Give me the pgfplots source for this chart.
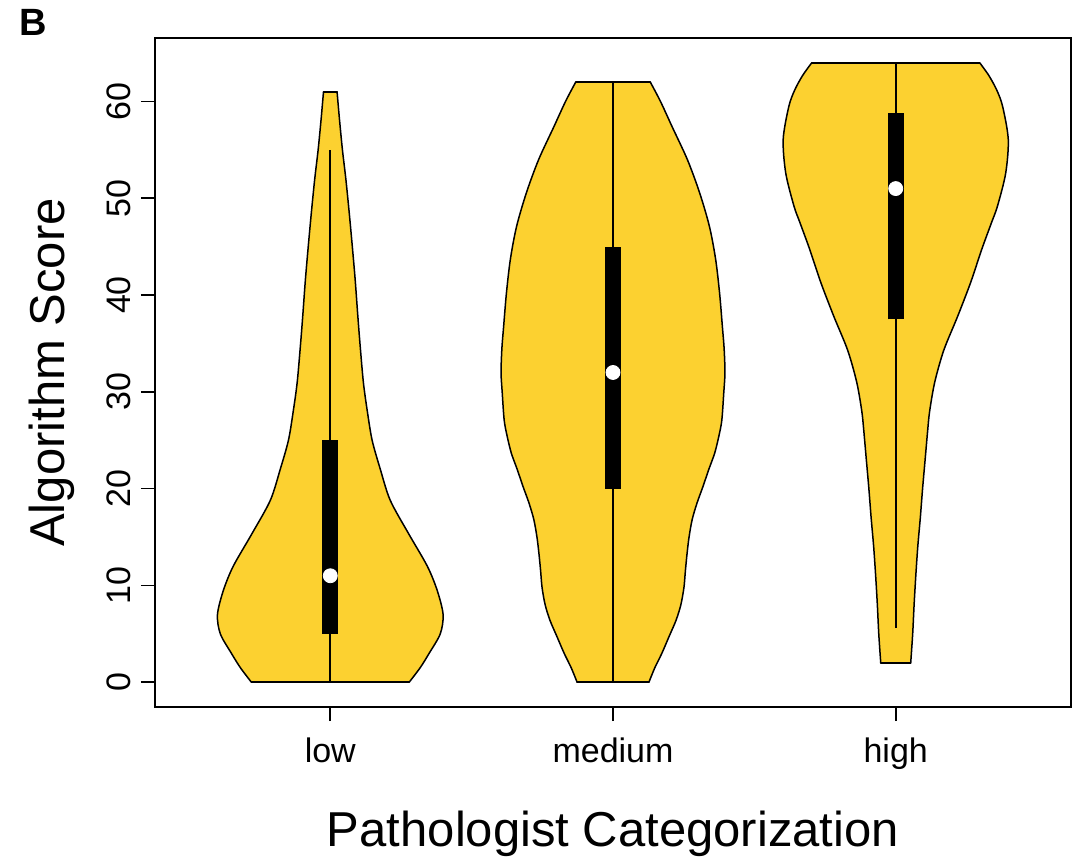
\documentclass[border=0pt]{standalone}
\usepackage{pgfplots}
\usepackage{pgfplotstable}
\pgfplotsset{compat=1.18}
\usepgfplotslibrary{fillbetween}
\usepackage{fontspec}
\setmainfont{Liberation Sans}
\usetikzlibrary{calc}
\definecolor{vio}{RGB}{252,209,48}

% half-widths of the violins (in x units), by score
\pgfplotstableread{
y w
0 0.279
1.5 0.318
3 0.350
5 0.389
7 0.399
9.5 0.378
12 0.343
15.4 0.276
18.8 0.212
22 0.177
25 0.148
28 0.131
31 0.117
35 0.105
38 0.097
41.6 0.088
45 0.078
48.5 0.067
52 0.055
55 0.043
58 0.033
61 0.024
}\lowtab
\pgfplotstableread{
y w
0 0.127
1.5 0.148
3 0.173
4.7 0.198
6.4 0.223
8 0.240
9.8 0.251
11.5 0.256
13.3 0.262
15 0.269
16.8 0.280
18.5 0.297
20.2 0.318
22 0.339
23.7 0.360
25.5 0.375
27.1 0.385
30 0.392
32 0.396
34.5 0.393
36.7 0.387
40.2 0.377
43.7 0.363
47.1 0.341
50.6 0.306
54 0.263
57.4 0.209
60 0.168
62 0.132
}\medtab
\pgfplotstableread{
y w
2 0.053
5 0.060
8 0.065
11 0.071
14 0.078
17 0.087
20 0.095
23 0.104
26 0.113
28 0.120
31 0.138
34.3 0.170
37.8 0.219
41.3 0.265
44.7 0.304
47.5 0.339
49.2 0.360
52.6 0.389
56.1 0.398
59.5 0.378
61.2 0.357
62.7 0.329
64 0.297
}\hightab

\begin{document}
\begin{tikzpicture}
\begin{axis}[
  at={(0,0)}, anchor=south west,
  scale only axis, width=458pt, height=334.5pt,
  xmin=0.38, xmax=3.62, ymin=-2.56, ymax=66.56,
  xtick={1,2,3}, xticklabels={low,medium,high},
  ytick={0,10,20,30,40,50,60},
  tick align=outside, tick pos=left,
  major tick length=7pt,
  tick style={black, line width=0.8pt},
  axis line style={line width=0.8pt},
  /pgf/number format/assume math mode=true,
  ticklabel style={font=\fontsize{17}{20}\selectfont},
  yticklabel style={xshift=-1.5pt, rotate=90, anchor=south},
  xticklabel style={yshift=-5pt},
  xlabel={Pathologist Categorization},
  ylabel={Algorithm Score},
  label style={font=\fontsize{24.5}{28}\selectfont},
  xlabel style={at={(axis description cs:0.5,-0.19)}, anchor=center},
  ylabel style={at={(axis description cs:-0.1124,0.5)}, anchor=center},
  clip=false,
  outline/.style={black, line width=0.75pt, line cap=round, line join=round},
]
% ---- low ----
\addplot[name path=lowR, draw=none, smooth] table[x expr=1+\thisrow{w}, y=y] {\lowtab};
\addplot[name path=lowL, draw=none, smooth] table[x expr=1-\thisrow{w}, y=y] {\lowtab};
\addplot[fill=vio, draw=none] fill between[of=lowR and lowL, reverse=true];
\addplot[outline, smooth] table[x expr=1+\thisrow{w}, y=y] {\lowtab};
\addplot[outline, smooth] table[x expr=1-\thisrow{w}, y=y] {\lowtab};
\addplot[outline] coordinates {(0.721,0) (1.279,0)};
\addplot[outline] coordinates {(0.976,61) (1.024,61)};
% ---- medium ----
\addplot[name path=medR, draw=none, smooth] table[x expr=2+\thisrow{w}, y=y] {\medtab};
\addplot[name path=medL, draw=none, smooth] table[x expr=2-\thisrow{w}, y=y] {\medtab};
\addplot[fill=vio, draw=none] fill between[of=medR and medL, reverse=true];
\addplot[outline, smooth] table[x expr=2+\thisrow{w}, y=y] {\medtab};
\addplot[outline, smooth] table[x expr=2-\thisrow{w}, y=y] {\medtab};
\addplot[outline] coordinates {(1.873,0) (2.127,0)};
\addplot[outline] coordinates {(1.868,62) (2.132,62)};
% ---- high ----
\addplot[name path=highR, draw=none, smooth] table[x expr=3+\thisrow{w}, y=y] {\hightab};
\addplot[name path=highL, draw=none, smooth] table[x expr=3-\thisrow{w}, y=y] {\hightab};
\addplot[fill=vio, draw=none] fill between[of=highR and highL, reverse=true];
\addplot[outline, smooth] table[x expr=3+\thisrow{w}, y=y] {\hightab};
\addplot[outline, smooth] table[x expr=3-\thisrow{w}, y=y] {\hightab};
\addplot[outline] coordinates {(2.947,2) (3.053,2)};
\addplot[outline] coordinates {(2.703,64) (3.297,64)};
% whiskers
\addplot[black, line width=0.9pt] coordinates {(1,0) (1,55)};
\addplot[black, line width=0.9pt] coordinates {(2,0) (2,62)};
\addplot[black, line width=0.9pt] coordinates {(3,5.6) (3,64)};
% boxes
\addplot[black, line width=8pt, line cap=butt] coordinates {(1,5) (1,25)};
\addplot[black, line width=8pt, line cap=butt] coordinates {(2,20) (2,45)};
\addplot[black, line width=8pt, line cap=butt] coordinates {(3,37.5) (3,58.8)};
% medians
\addplot[only marks, mark=*, mark size=3.5pt, mark options={fill=white, draw=white}] coordinates {(1,11) (2,32) (3,51)};
\coordinate (SW) at (rel axis cs:0,0);
\coordinate (NE) at (rel axis cs:1,1);
\end{axis}
\node[font=\bfseries\fontsize{19}{22}\selectfont, anchor=center] at ($(SW|-NE)+(-60.75pt,7.75pt)$) {B};
\pgfresetboundingbox
\useasboundingbox ($(SW)+(-77.5pt,-75pt)$) rectangle ($(NE)+(2.5pt,19pt)$);
\end{tikzpicture}
\end{document}
